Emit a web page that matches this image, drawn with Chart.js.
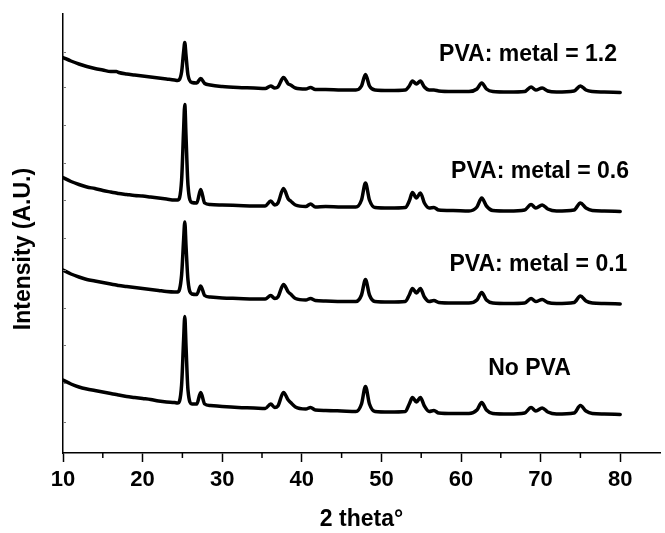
<!DOCTYPE html>
<html>
<head>
<meta charset="utf-8">
<script src="https://cdn.jsdelivr.net/npm/chart.js@4/dist/chart.umd.min.js"></script>
<style>
  html, body { margin: 0; padding: 0; background: #fff; }
  #wrap { width: 665px; height: 533px; }
</style>
</head>
<body>
<div id="wrap"><canvas id="xrd"></canvas></div>
<script>
// 2 theta positions shared by all four patterns
const twoTheta = [10, 11, 12, 13, 14, 15, 16, 16.7, 17, 18, 19, 20, 21, 22, 23, 24, 24.4, 24.9, 25.15, 25.3, 25.45, 25.7,
  26.2, 26.8, 27.3, 27.8, 28.5, 30, 32, 34, 35.4, 36.1, 36.6, 37, 37.7, 38.3, 38.6, 39.2, 40.5, 41.1, 41.7, 43,
  45, 46.8, 47.5, 48, 48.5, 49.2, 51, 53, 53.5, 53.9, 54.4, 54.9, 55.4, 56, 56.6, 57.2, 59, 61, 62, 62.6,
  63.2, 64, 66, 68, 68.8, 69.4, 70.2, 70.9, 72, 74.2, 75, 75.7, 76.5, 78, 80];

// intensities (A.U., stacked with offsets as in the figure)
const pva12 = [395.5, 392, 389, 386.5, 384.5, 383, 381.5, 381.5, 380.5, 379, 378, 377, 376, 375, 374, 373, 372.5, 381, 401, 410.5, 398, 378,
  370.5, 370, 374.5, 369.5, 368, 366.5, 365.5, 365, 364.5, 367, 365, 366, 375.5, 369, 368, 365, 364, 365.5, 363.5, 363.5,
  363, 363, 367, 378.5, 367, 363, 362.5, 363, 367, 372, 369, 372, 366, 363, 363, 362, 361.5, 361.5, 364, 370,
  364, 361.5, 361, 361.5, 366, 363, 365, 362, 361, 362, 367, 363, 361.5, 361, 360.5];

const pva06 = [275.5, 271.5, 268.5, 266, 264.5, 262.5, 261, 260, 259.5, 258.5, 257.5, 257, 256, 255, 254, 253, 253, 273, 323, 348.5, 318, 268,
  250.5, 250, 263.5, 250, 248.5, 248, 247.5, 247, 247, 252, 248, 250, 264.5, 254, 252, 248, 246.5, 249, 246, 246.5,
  246, 246, 253, 270, 253, 245.5, 245, 245.5, 252, 260.5, 255, 260, 250, 245, 245.5, 243, 242.5, 242, 246, 255,
  247, 242.5, 242, 243, 248.5, 245, 248, 244, 242, 243, 250, 245, 242.5, 242, 241.5];

const pva01 = [183, 179, 176, 173.5, 172, 170.5, 169, 168, 167.5, 166.5, 165.5, 164.5, 163.5, 162.5, 161.5, 161, 161, 178, 213, 231, 208, 173,
  159, 158.5, 167, 157.5, 156, 155, 154.5, 154, 154, 157.5, 154.5, 156, 168.5, 161, 159, 154.5, 153, 154.5, 152.5, 152,
  151.5, 151.5, 158, 173.5, 158, 151.5, 151, 151.5, 158, 164.5, 160, 164.5, 156, 151.5, 152.5, 150.5, 150, 150, 153, 160.5,
  153, 150, 149.5, 150, 154.5, 151.5, 153.5, 150.5, 149.5, 150.5, 157, 152, 150, 149.5, 149];

const noPva = [73, 69, 66, 64, 62.5, 61, 59.5, 58.5, 58, 56.5, 55.5, 54.5, 53.5, 52, 51, 50.5, 50, 68, 113, 136.5, 108, 63,
  49, 49, 60.5, 49, 47.5, 46.5, 45.5, 45, 44.5, 49, 45.5, 47, 60.5, 53, 50.5, 46, 44, 45.5, 43, 42.5,
  42, 41.5, 49, 66.5, 49, 41.5, 41, 41.5, 49, 55.5, 51, 55.5, 47, 41.5, 42.5, 40, 39.5, 39.5, 43, 50.5,
  43, 39.5, 39, 40, 45.5, 42, 45, 41, 39, 40, 47.5, 42, 39.5, 39, 38.5];

const seriesNames = ["No PVA", "PVA: metal = 0.1", "PVA: metal = 0.6", "PVA: metal = 1.2"];
const xTickLabels = [10, 20, 30, 40, 50, 60, 70, 80];
const yMinorTicks = [31, 70, 108, 145, 183, 215, 253, 290, 328, 366, 401];

const FONT = "'Liberation Sans', Arial, sans-serif";

// where each pattern's name sits, in data coordinates
const nameAnchors = [
  { x: 68.6, y: 84, align: "center" },
  { x: 80.9, y: 188, align: "right" },
  { x: 81.1, y: 281, align: "right" },
  { x: 79.6, y: 398, align: "right" },
];

const toPoints = (ys) => twoTheta.map((x, i) => ({ x, y: ys[i] }));

const decor = {
  id: "decor",
  afterDraw(chart) {
    const { ctx, chartArea, scales } = chart;
    const xs = scales.x, ys = scales.y;
    ctx.save();

    // short inward ticks on the y axis
    ctx.strokeStyle = "#777";
    ctx.lineWidth = 1;
    yMinorTicks.forEach((v) => {
      const py = Math.round(ys.getPixelForValue(v)) + 0.5;
      ctx.beginPath();
      ctx.moveTo(chartArea.left, py);
      ctx.lineTo(chartArea.left + 3, py);
      ctx.stroke();
    });

    // minor ticks on the x axis
    ctx.strokeStyle = "#000";
    ctx.lineWidth = 1.5;
    for (let v = 15; v <= 75; v += 10) {
      const px = xs.getPixelForValue(v);
      ctx.beginPath();
      ctx.moveTo(px, chartArea.bottom);
      ctx.lineTo(px, chartArea.bottom + 5);
      ctx.stroke();
    }

    // y axis title
    ctx.fillStyle = "#000";
    ctx.font = "bold 23px " + FONT;
    ctx.textAlign = "center";
    ctx.textBaseline = "middle";
    ctx.translate(24, 249);
    ctx.rotate(-Math.PI / 2);
    ctx.fillText("Intensity (A.U.)", 0, 0);
    ctx.setTransform(1, 0, 0, 1, 0, 0);

    // pattern names
    ctx.font = "bold 23px " + FONT;
    ctx.textBaseline = "middle";
    seriesNames.forEach((name, i) => {
      const a = nameAnchors[i];
      ctx.textAlign = a.align;
      ctx.fillText(name, xs.getPixelForValue(a.x), ys.getPixelForValue(a.y));
    });
    ctx.restore();
  },
};

const patterns = [noPva, pva01, pva06, pva12];

new Chart(document.getElementById("xrd"), {
  type: "line",
  data: {
    datasets: patterns.map((ys, i) => ({
      label: seriesNames[i],
      data: toPoints(ys),
      borderColor: "#000",
      borderWidth: 3.5,
      pointRadius: 0,
      cubicInterpolationMode: "monotone",
      fill: false,
      borderJoinStyle: "round",
      borderCapStyle: "round",
    })),
  },
  options: {
    responsive: true,
    maintainAspectRatio: false,
    animation: false,
    layout: { padding: { left: 63, top: 14, right: 0, bottom: 0 } },
    plugins: { legend: { display: false }, tooltip: { enabled: false } },
    scales: {
      x: {
        type: "linear",
        min: 10,
        max: 85,
        grid: {
          display: true,
          drawOnChartArea: false,
          drawTicks: true,
          tickLength: 9,
          tickWidth: 1.5,
          tickColor: (c) => (xTickLabels.includes(c.tick.value) ? "#000" : "rgba(0,0,0,0)"),
        },
        border: { display: true, color: "#000", width: 1.5 },
        ticks: {
          stepSize: 5,
          autoSkip: false,
          maxRotation: 0,
          padding: 5,
          color: "#000",
          font: { family: FONT, size: 22, weight: "bold" },
          callback: (v) => (xTickLabels.includes(v) ? String(v) : ""),
        },
        title: {
          display: true,
          text: "2 theta°",
          color: "#000",
          font: { family: FONT, size: 23, weight: "bold" },
          padding: { top: 7, bottom: 0 },
        },
      },
      y: {
        min: 0,
        max: 439,
        grid: { display: false, drawTicks: false },
        border: { display: true, color: "#000", width: 1.5 },
        ticks: { display: false },
      },
    },
  },
  plugins: [decor],
});
</script>
</body>
</html>
